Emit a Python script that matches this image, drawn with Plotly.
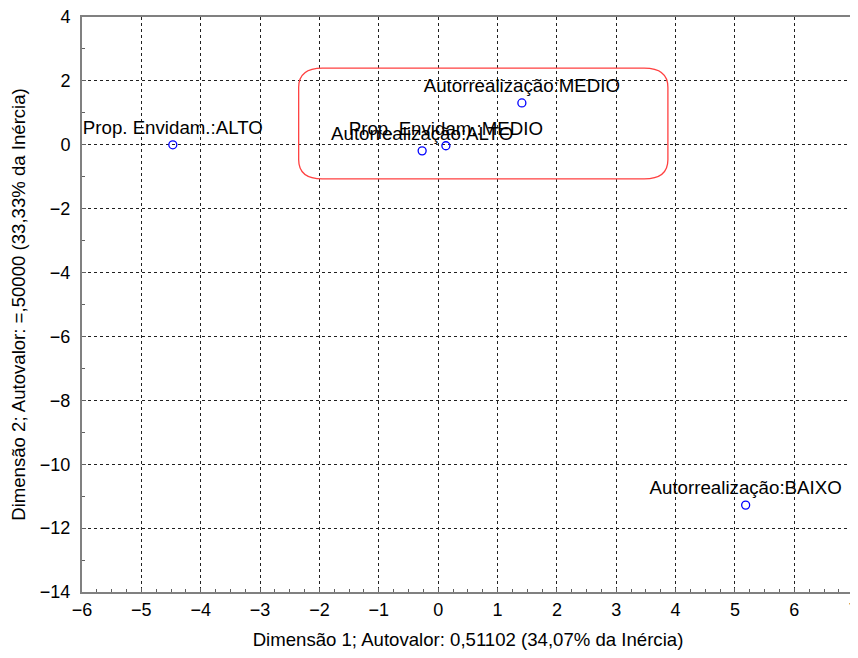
import plotly.graph_objects as go

labels = ["Prop. Envidam.:ALTO", "Prop. Envidam.:MEDIO", "Autorrealização:ALTO",
          "Autorrealização:MEDIO", "Autorrealização:BAIXO"]
dim1 = [-4.47, 0.13, -0.27, 1.41, 5.18]
dim2 = [0.0, -0.03, -0.19, 1.31, -11.28]

x_ticks = list(range(-6, 8))
y_ticks = list(range(-14, 5, 2))

# highlight box (data coords)
box_x = [-2.35, 3.87]
box_y = [-1.07, 2.40]
rx, ry = 0.40, 0.60

FONT = "Liberation Sans, Arial"

fig = go.Figure()
fig.add_trace(go.Scatter(
    x=dim1, y=dim2, mode="markers+text", text=labels,
    textposition="top center",
    textfont=dict(family=FONT, size=18.7, color="black"),
    marker=dict(symbol="circle-open", size=8, color="#0000ff", line=dict(width=1.3)),
    hoverinfo="skip", showlegend=False, cliponaxis=False,
))

x0, x1 = box_x
y0, y1 = box_y
path = (f"M {x0+rx},{y0} L {x1-rx},{y0} Q {x1},{y0} {x1},{y0+ry} "
        f"L {x1},{y1-ry} Q {x1},{y1} {x1-rx},{y1} "
        f"L {x0+rx},{y1} Q {x0},{y1} {x0},{y1-ry} "
        f"L {x0},{y0+ry} Q {x0},{y0} {x0+rx},{y0} Z")
fig.add_shape(type="path", path=path, xref="x", yref="y",
              line=dict(color="#ff4040", width=1.3))

axis_common = dict(
    showline=True, linecolor="#808080", linewidth=2, mirror=True,
    showgrid=True, gridcolor="#202020", griddash="dot", gridwidth=1,
    zeroline=False, ticks="inside", ticklen=4, tickcolor="#606060",
    tickfont=dict(family=FONT, size=18, color="black"),
    automargin=False, ticklabeloverflow="allow",
)

fig.update_xaxes(
    range=[-6, 7.005], tickmode="array", tickvals=x_ticks,
    minor=dict(dtick=0.25, ticks="inside", ticklen=3, tickcolor="#606060", showgrid=False),
    title=dict(text="Dimensão 1; Autovalor: 0,51102 (34,07% da Inércia)",
               font=dict(family=FONT, size=18.6, color="black"),
               standoff=15),
    **axis_common)
fig.update_yaxes(
    range=[-14, 4], tickmode="array", tickvals=y_ticks,
    minor=dict(dtick=1, ticks="inside", ticklen=3, tickcolor="#606060", showgrid=False),
    title=dict(text="Dimensão 2; Autovalor: =,50000 (33,33% da Inércia)",
               font=dict(family=FONT, size=18.6, color="black"),
               standoff=12),
    ticklabelstandoff=6,
    **axis_common)

fig.update_layout(
    width=850, height=642,
    margin=dict(l=74, r=4, t=9, b=58),
    plot_bgcolor="white", paper_bgcolor="white",
)

fig.write_html("out.html")
